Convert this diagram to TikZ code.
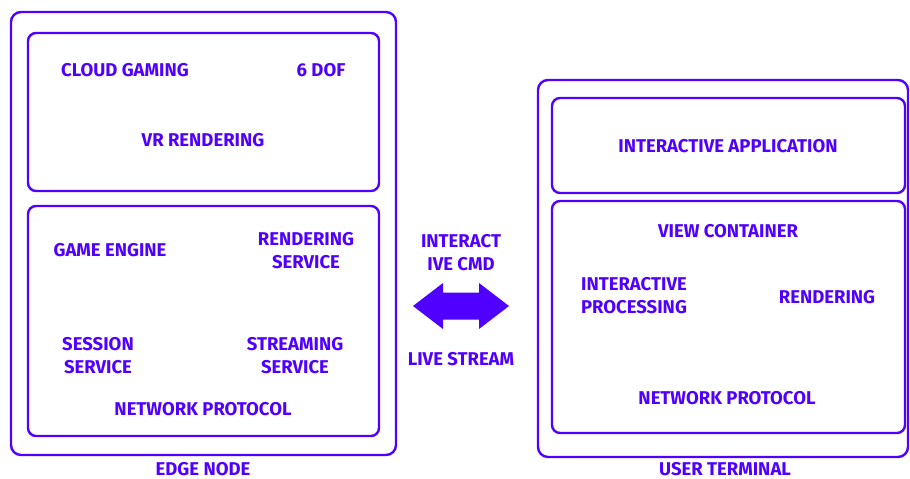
\documentclass[tikz,border=0pt]{standalone}
\usepackage{fontspec}
\newfontfamily\lblfont{Fira Sans}
\usetikzlibrary{positioning}
\definecolor{ink}{RGB}{80,0,255}
\tikzset{
  outerbox/.style={draw=ink, line width=2.4pt, rounded corners=10pt},
  innerbox/.style={draw=ink, line width=2.4pt, rounded corners=8pt},
  lbl/.style={text=ink, font=\lblfont\bfseries\fontsize{18.5}{23}\selectfont, align=center, inner sep=0pt},
}
\begin{document}
\begin{tikzpicture}[x=1pt,y=-1pt]
\useasboundingbox (0,0) rectangle (910,479);
% boxes
\draw[outerbox] (11,12) rectangle (396,455);
\draw[innerbox] (28,33) rectangle (379,191);
\draw[innerbox] (28,206) rectangle (379,436);
\draw[outerbox] (538,80) rectangle (908,457);
\draw[innerbox] (552,98) rectangle (905,193);
\draw[innerbox] (552,201) rectangle (905,433);
% left labels
\node[lbl] (cg) at (125,70) {CLOUD GAMING};
\node[lbl] (dof) at (321,70) {6 DOF};
\node[lbl] (vr) at (203,140) {VR RENDERING};
\node[lbl] (ge) at (110,250) {GAME ENGINE};
\node[lbl] (rs) at (306,251) {RENDERING\\SERVICE};
\node[lbl] (ss) at (98,356) {SESSION\\SERVICE};
\node[lbl] (st) at (295,356) {STREAMING\\SERVICE};
\node[lbl] (np1) at (203,409) {NETWORK PROTOCOL};
\node[lbl] (en) at (203,469) {EDGE NODE};
% middle
\node[lbl] (cmd) at (461,253) {INTERACT\\IVE CMD};
\node[lbl] (ls) at (461,359) {LIVE STREAM};
\coordinate (al) at (413,306);
\coordinate (ar) at (509,306);
\fill[ink] (al) -- ++(30,-23) -- ++(0,9.5) -- ++(36,0) -- ++(0,-9.5) -- (ar)
  -- ++(-30,23) -- ++(0,-9.5) -- ++(-36,0) -- ++(0,9.5) -- cycle;
% right labels
\node[lbl] (ia) at (728,146) {INTERACTIVE APPLICATION};
\node[lbl] (vc) at (728,231) {VIEW CONTAINER};
\node[lbl] (ip) at (634,296) {INTERACTIVE\\PROCESSING};
\node[lbl] (rr) at (827,297) {RENDERING};
\node[lbl] (np2) at (727,398) {NETWORK PROTOCOL};
\node[lbl] (ut) at (725,469) {USER TERMINAL};
\end{tikzpicture}
\end{document}
